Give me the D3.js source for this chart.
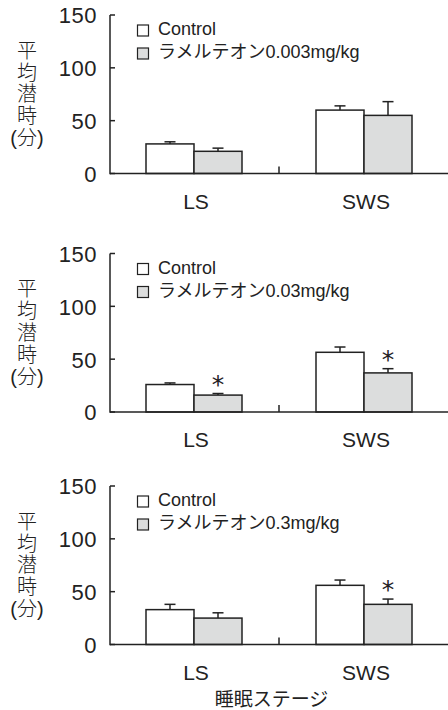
<!DOCTYPE html>
<html>
<head>
<meta charset="utf-8">
<script src="https://cdn.jsdelivr.net/npm/d3@7"></script>
<style>
  html, body { margin: 0; padding: 0; background: #fff; }
  svg { display: block; font-family: "Liberation Sans", "Noto Sans CJK JP", sans-serif; }
</style>
</head>
<body>
<svg id="chart" width="448" height="710"></svg>
<script>
// Sleep-stage latency: control vs. ramelteon at three doses
const stages = ["LS", "SWS"];
const groups = ["control", "drug"];
const groupLabels = ["Control"];
const doseLabels = ["ラメルテオン0.003mg/kg", "ラメルテオン0.03mg/kg", "ラメルテオン0.3mg/kg"];
const controlMean = [[28, 60], [26, 56.5], [33, 56]];
const controlSE   = [[2, 4], [1.5, 5], [5, 5]];
const drugMean    = [[21, 55], [16, 37], [25, 38]];
const drugSE      = [[3, 13], [1.5, 4], [5, 5]];
const drugSig     = [[false, false], [true, true], [false, true]];
const yTicks = [0, 50, 100, 150];
const yTitleLines = ["平", "均", "潜", "時", "(分)"];
const xTitle = "睡眠ステージ";

const svg = d3.select("#chart");
const ink = "#222";
const fills = { control: "#ffffff", drug: "#dcdddd" };

const axisX = 110, rightX = 449;
const panelTops = [15, 253.5, 486];
const panelH = 158.5;

const x = d3.scaleBand().domain(stages).range([axisX - 1, rightX]).paddingInner(0).paddingOuter(0);
const barW = 48;

panelTops.forEach((top, p) => {
  const g = svg.append("g");
  const y = d3.scaleLinear().domain([0, 150]).range([top + panelH, top]);
  const y0 = y(0);
  const xs = d3.scaleBand().domain(groups).range([-barW, barW]).padding(0);

  // y axis with inward ticks
  const yAxis = d3.axisLeft(y).tickValues(yTicks).tickSize(0).tickPadding(13);
  const ya = g.append("g").attr("transform", `translate(${axisX},0)`).call(yAxis);
  ya.select(".domain").remove();
  ya.selectAll("text").attr("font-size", 22).attr("fill", ink).attr("dy", "0.36em")
    .attr("font-family", "Liberation Sans").style("letter-spacing", "0.5px");
  g.selectAll(".ytick").data(yTicks).join("line")
    .attr("x1", axisX).attr("x2", axisX + 5)
    .attr("y1", d => y(d)).attr("y2", d => y(d))
    .attr("stroke", ink).attr("stroke-width", 1.5);
  g.append("line").attr("x1", axisX).attr("x2", axisX)
    .attr("y1", y(150)).attr("y2", y0 + 0.75)
    .attr("stroke", ink).attr("stroke-width", 1.5);

  // bars
  const rows = [];
  stages.forEach((s, i) => {
    rows.push({ stage: s, group: "control", mean: controlMean[p][i], se: controlSE[p][i], sig: false });
    rows.push({ stage: s, group: "drug", mean: drugMean[p][i], se: drugSE[p][i], sig: drugSig[p][i] });
  });
  const cx = d => x(d.stage) + x.bandwidth() / 2;

  // error bars (upper only)
  g.selectAll(".err").data(rows).join("line")
    .attr("x1", d => cx(d) + xs(d.group) + barW / 2).attr("x2", d => cx(d) + xs(d.group) + barW / 2)
    .attr("y1", d => y(d.mean)).attr("y2", d => y(d.mean + d.se))
    .attr("stroke", ink).attr("stroke-width", 1.5);
  g.selectAll(".cap").data(rows).join("line")
    .attr("x1", d => cx(d) + xs(d.group) + barW / 2 - 5.5).attr("x2", d => cx(d) + xs(d.group) + barW / 2 + 5.5)
    .attr("y1", d => y(d.mean + d.se)).attr("y2", d => y(d.mean + d.se))
    .attr("stroke", ink).attr("stroke-width", 1.5);

  g.selectAll(".bar").data(rows).join("rect")
    .attr("x", d => cx(d) + xs(d.group)).attr("width", barW)
    .attr("y", d => y(d.mean)).attr("height", d => y0 - y(d.mean))
    .attr("fill", d => fills[d.group]).attr("stroke", ink).attr("stroke-width", 1.5);

  // significance marks
  g.selectAll(".sig").data(rows.filter(d => d.sig)).join("text")
    .attr("x", d => cx(d) + xs(d.group) + barW / 2).attr("y", d => y(d.mean + d.se) - 1)
    .attr("text-anchor", "middle").attr("font-size", 25).attr("fill", ink)
    .attr("font-family", "DejaVu Sans").text("*");

  // x axis baseline and the divider tick between stages
  g.append("line").attr("x1", axisX).attr("x2", 448).attr("y1", y0).attr("y2", y0)
    .attr("stroke", ink).attr("stroke-width", 1.5);
  g.append("line").attr("x1", x("SWS")).attr("x2", x("SWS")).attr("y1", y0).attr("y2", y0 - 7)
    .attr("stroke", ink).attr("stroke-width", 1.5);

  // stage labels
  g.selectAll(".stage").data(stages).join("text")
    .attr("x", s => x(s) + x.bandwidth() / 2 + 2).attr("y", y0 + 35)
    .attr("text-anchor", "middle").attr("font-size", 21).attr("fill", ink).text(s => s);

  // legend
  const legend = [groupLabels[0], doseLabels[p]];
  legend.forEach((t, i) => {
    g.append("rect").attr("x", 137.5).attr("y", top + 10 + i * 23).attr("width", 11).attr("height", 11)
      .attr("fill", fills[groups[i]]).attr("stroke", ink).attr("stroke-width", 1.2);
    g.append("text").attr("x", 158).attr("y", top + 20 + i * 23)
      .attr("font-size", 18).attr("fill", ink).text(t);
  });

  // vertical y title
  const midY = (y(150) + y0) / 2;
  g.selectAll(".ytitle").data(yTitleLines).join("text")
    .attr("x", 27).attr("y", (d, i) => midY + (i - 2) * 21.8)
    .attr("dy", "0.36em").attr("text-anchor", "middle")
    .attr("font-size", 20).attr("font-weight", 300).attr("fill", ink).text(d => d);
});

svg.append("text").attr("x", 271.5).attr("y", 706).attr("text-anchor", "middle")
  .attr("font-size", 19).attr("fill", ink).text(xTitle);
</script>
</body>
</html>
